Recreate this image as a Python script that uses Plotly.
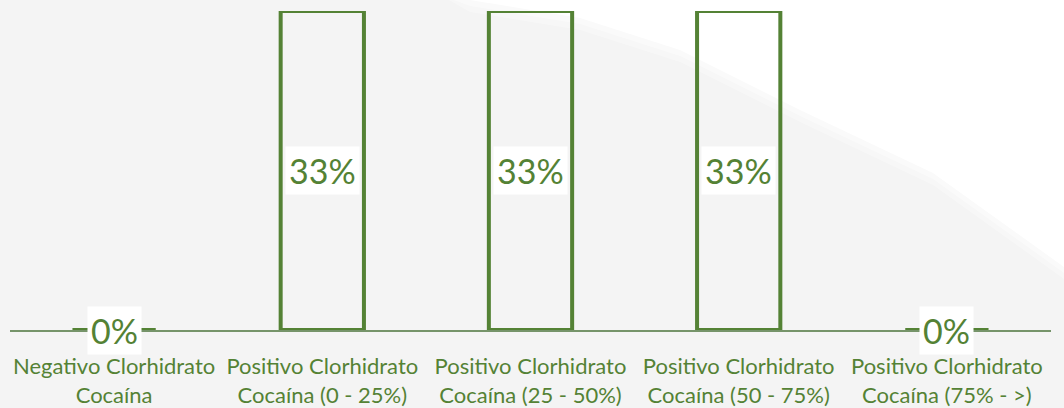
import plotly.graph_objects as go

categories = [
    "Negativo Clorhidrato<br>Cocaína",
    "Positivo Clorhidrato<br>Cocaína (0 - 25%)",
    "Positivo Clorhidrato<br>Cocaína (25 - 50%)",
    "Positivo Clorhidrato<br>Cocaína (50 - 75%)",
    "Positivo Clorhidrato<br>Cocaína (75% - >)",
]
values = [0.0, 0.3333, 0.3333, 0.3333, 0.0]
value_labels = ["0%", "33%", "33%", "33%", "0%"]

GREEN = "#548235"
FONT = "Lato"

fig = go.Figure()
fig.add_trace(go.Bar(
    x=categories,
    y=values,
    marker=dict(color="rgba(0,0,0,0)", line=dict(color=GREEN, width=4)),
    hoverinfo="skip",
))

for c, v, t in zip(categories, values, value_labels):
    fig.add_annotation(
        x=c, y=v / 2, text=t, showarrow=False,
        font=dict(family=FONT, size=34, color=GREEN),
        bgcolor="white", borderpad=3,
        xref="x", yref="y",
    )

# background decoration: white soft-edged region in upper right
L, R, T, B = 10, 1051, 11, 330
W, H = R - L, B - T
def px(x, y):
    return (x - L) / W, (B - y) / H

edge = [(470, 0), (580, 18), (680, 50), (800, 110), (933, 173), (1064, 267)]
for dy, op in [(12, 0.3), (6, 0.4), (0, 1.0)]:
    pts = [px(x, y + dy) for x, y in edge]
    pts = [px(440, -5)] + pts + [px(1070, 267 + dy), px(1070, -5)]
    path = "M " + " L ".join(f"{a:.4f},{b:.4f}" for a, b in pts) + " Z"
    fig.add_shape(type="path", path=path, xref="paper", yref="paper",
                  fillcolor="white", opacity=op, line=dict(width=0), layer="below")

fig.update_layout(
    width=1064, height=408,
    margin=dict(l=L, r=1064 - R, t=T, b=408 - B, autoexpand=False),
    paper_bgcolor="#f4f4f4",
    plot_bgcolor="rgba(0,0,0,0)",
    bargap=0.6,
    showlegend=False,
    font=dict(family=FONT, color=GREEN),
)
fig.update_xaxes(
    showline=True, linecolor="#76946a", linewidth=1.5,
    showgrid=False, ticks="", zeroline=False, automargin=False,
    tickfont=dict(family=FONT, size=22, color=GREEN),
    ticklabelstandoff=16,
)
fig.update_yaxes(
    range=[0, 0.3333], visible=False, showgrid=False, zeroline=False,
    automargin=False,
)

fig.write_html("out.html",
               config={"displayModeBar": False},
               post_script="document.body.style.margin='0';document.body.style.overflow='hidden';")
